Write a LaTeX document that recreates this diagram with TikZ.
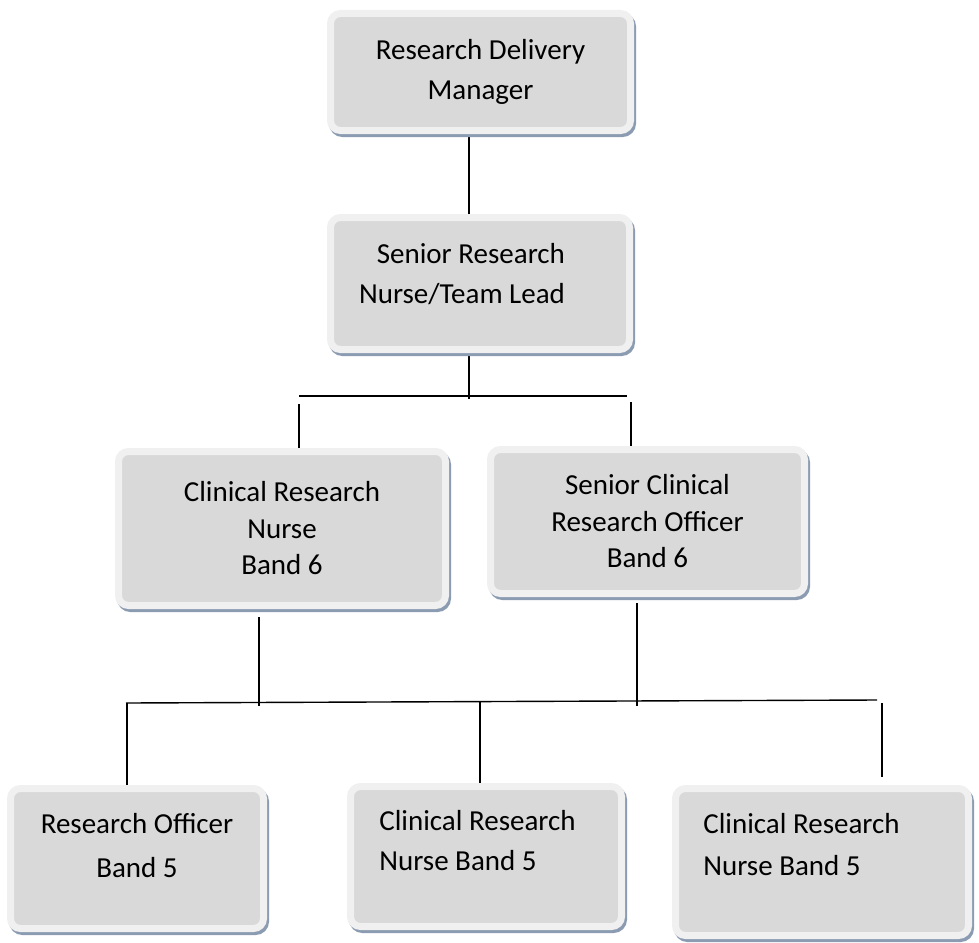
\documentclass[tikz,border=0pt]{standalone}
\usepackage{fontspec}
\setmainfont{Carlito}
\usepackage{xcolor}
\usepackage{tikz}
\usetikzlibrary{positioning,backgrounds}

\definecolor{rim}{HTML}{F0F0F0}
\definecolor{boxfill}{HTML}{D9D9D9}
\definecolor{shade}{HTML}{8B9BB2}

\begin{document}
\begin{tikzpicture}[x=1pt,y=-1pt,
  post/.style={draw=rim,line width=7pt,fill=boxfill,rounded corners=10pt,
    preaction={draw=shade,fill=shade,line width=7pt,
      transform canvas={shift={(2pt,-3pt)}}},
    inner sep=0pt,align=center,font=\fontsize{29}{40}\selectfont},
  txt/.style={inner sep=0pt,font=\fontsize{29}{40}\selectfont},
  link/.style={line width=1.4pt}]
  \useasboundingbox (0,0) rectangle (979,942);

  % top of the chart
  \node[post,minimum width=300,minimum height=117] (rdm) at (480.5,72)
    {Research Delivery\\Manager};
  \node[post,minimum width=299,minimum height=132,
    label={[txt,align=right,xshift=-18pt,yshift=9.5pt]center:{Senior Research\\Nurse/Team Lead}}]
    (srn) at (480,283.5) {};

  % band 6
  \node[post,minimum width=327,minimum height=154,
    font=\fontsize{29}{36.5}\selectfont] (crn) at (282,528.5)
    {Clinical Research\\Nurse\\Band 6};
  \node[post,minimum width=314,minimum height=144,
    font=\fontsize{29}{36.5}\selectfont] (scro) at (647.5,521.5)
    {Senior Clinical\\Research Officer\\Band 6};

  % band 5
  \node[post,minimum width=253,minimum height=140,
    label={[txt,align=center,font=\fontsize{29}{44}\selectfont,yshift=12.5pt]center:{Research Officer\\Band 5}}]
    (ro) at (137,858.5) {};
  \node[post,minimum width=271,minimum height=140,
    label={[txt,align=left,xshift=-8.5pt,yshift=15.5pt]center:{Clinical Research\\Nurse Band 5}}]
    (crna) at (486,856.5) {};
  \node[post,minimum width=293,minimum height=147,
    label={[txt,align=left,font=\fontsize{29}{42}\selectfont,xshift=-20.5pt,yshift=17pt]center:{Clinical Research\\Nurse Band 5}}]
    (crnb) at (822,862) {};

  % joints
  \coordinate (barL) at (299,396);
  \coordinate (barR) at (627,396);
  \coordinate (teeA) at (469,399);
  \coordinate (dropL) at (299,404);
  \coordinate (dropR) at (631,402);
  \coordinate (lowL) at (126,703);
  \coordinate (lowR) at (877,700);
  \coordinate (teeB) at (259,706);
  \coordinate (teeC) at (637,706);
  \coordinate (dropA) at (127,703);
  \coordinate (dropB) at (480,701);
  \coordinate (dropC) at (882,703);
  \coordinate (endC) at (882,777);

  \begin{scope}[on background layer]
    \draw[link] (teeA |- rdm.south) -- (teeA |- srn.north);
    \draw[link] (teeA |- srn.south) -- (teeA);
    \draw[link] (barL) -- (barR);
    \draw[link] (dropL) -- (dropL |- crn.north);
    \draw[link] (dropR) -- (dropR |- scro.north);
    \draw[link] ([yshift=-8pt]teeB |- crn.south) -- (teeB);
    \draw[link] ([yshift=-6pt]teeC |- scro.south) -- (teeC);
    \draw[link] (lowL) -- (lowR);
    \draw[link] (dropA) -- (dropA |- ro.north);
    \draw[link] (dropB) -- (dropB |- crna.north);
    \draw[link] (dropC) -- (endC);
  \end{scope}
\end{tikzpicture}
\end{document}
